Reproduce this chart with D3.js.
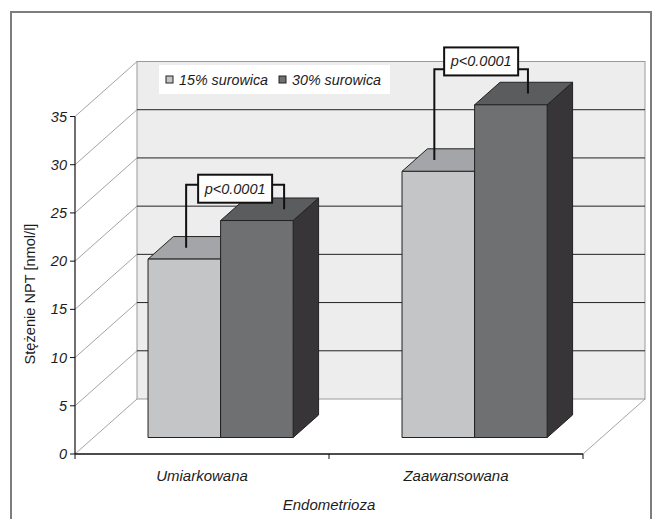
<!DOCTYPE html>
<html>
<head>
<meta charset="utf-8">
<script src="https://cdn.jsdelivr.net/npm/d3@7"></script>
<style>
  body { margin: 0; background: #fff; }
  svg { display: block; }
  text { font-family: "Liberation Sans", Arial, sans-serif; fill: #1c1c1c; }
</style>
</head>
<body>
<div id="chart"></div>
<script>
// Values.
const categories = ["Umiarkowana", "Zaawansowana"];
const series = ["15% surowica", "30% surowica"];
const values15 = [18.5, 27.6];
const values30 = [22.5, 34.5];
const yTicks = [0, 5, 10, 15, 20, 25, 30, 35];
const pLabels = ["p<0.0001", "p<0.0001"];
const bracketLevel = [26.2, 38.2];   // where the bracket's horizontal runs
const labelLevel = [25.8, 39.0];     // centre of the p-value box

const width = 653;
const height = 519;

// oblique projection: full depth shifts points by DX, DY
const DX = 62;
const DY = -55;
const BAR_FRONT = 0.30;
const BAR_BACK = 0.71;

const colors = {
  front: ["#c4c5c7", "#6f7072"],
  top: ["#a3a5a8", "#5b5c5e"],
  side: ["#8a8b8d", "#373537"]
};

function main() {
  const svg = d3.select("#chart").append("svg")
      .attr("width", width)
      .attr("height", height);

  const x = d3.scaleBand().domain(categories).range([75, 583]);
  const xs = d3.scaleBand().domain(series).range([0, x.bandwidth()])
      .paddingInner(0).paddingOuter(0.75);
  const y = d3.scaleLinear().domain([0, 35]).range([454, 116.5]);

  // project a front-plane point (px, value) to depth d (0..1)
  const P = (px, v, d) => [px + d * DX, y(v) + d * DY];
  const poly = pts => "M" + pts.map(p => p.join(",")).join("L") + "Z";

  // outer frame (bottom edge is cut off)
  svg.append("path")
      .attr("d", `M11,${height + 2}V12H651V${height + 2}`)
      .attr("fill", "none").attr("stroke", "#7d7d7d").attr("stroke-width", 2);

  // back wall
  const [bx0, by0] = P(75, 35, 1);
  const [bx1, by1] = P(583, 0, 1);
  svg.append("rect")
      .attr("x", bx0).attr("y", by0)
      .attr("width", bx1 - bx0).attr("height", by1 - by0)
      .attr("fill", "#ecedec").attr("stroke", "#9a9a9a").attr("stroke-width", 1);

  // back gridlines
  svg.append("g").selectAll("line")
    .data(yTicks.filter(t => t > 0 && t < 35))
    .join("line")
      .attr("x1", bx0).attr("x2", bx1)
      .attr("y1", d => P(75, d, 1)[1]).attr("y2", d => P(75, d, 1)[1])
      .attr("stroke", "#222").attr("stroke-width", 1);

  // side wall diagonals
  svg.append("g").selectAll("line")
    .data(yTicks)
    .join("line")
      .attr("x1", 75).attr("y1", d => y(d))
      .attr("x2", d => P(75, d, 1)[0]).attr("y2", d => P(75, d, 1)[1])
      .attr("stroke", "#8c8c8c").attr("stroke-width", 0.8);

  // floor right edge
  const fr = P(583, 0, 1);
  svg.append("line")
      .attr("x1", 583).attr("y1", y(0)).attr("x2", fr[0]).attr("y2", fr[1])
      .attr("stroke", "#8c8c8c").attr("stroke-width", 0.8);

  // bars
  const bars = [];
  categories.forEach((c, i) => {
    [values15[i], values30[i]].forEach((v, j) => {
      bars.push({ cat: c, s: j, v: v, x0: x(c) + xs(series[j]), w: xs.bandwidth() });
    });
  });

  const gb = svg.append("g")
      .attr("stroke", "#222").attr("stroke-width", 1).attr("stroke-linejoin", "round");
  bars.forEach(b => {
    const x0 = b.x0, x1 = b.x0 + b.w;
    const side = [P(x1, 0, BAR_FRONT), P(x1, 0, BAR_BACK), P(x1, b.v, BAR_BACK), P(x1, b.v, BAR_FRONT)];
    const top = [P(x0, b.v, BAR_FRONT), P(x1, b.v, BAR_FRONT), P(x1, b.v, BAR_BACK), P(x0, b.v, BAR_BACK)];
    const front = [P(x0, 0, BAR_FRONT), P(x1, 0, BAR_FRONT), P(x1, b.v, BAR_FRONT), P(x0, b.v, BAR_FRONT)];
    gb.append("path").attr("d", poly(side)).attr("fill", colors.side[b.s]);
    gb.append("path").attr("d", poly(top)).attr("fill", colors.top[b.s]);
    gb.append("path").attr("d", poly(front)).attr("fill", colors.front[b.s]);
  });

  // y axis
  svg.append("line")
      .attr("x1", 75).attr("x2", 75).attr("y1", y(35)).attr("y2", y(0))
      .attr("stroke", "#111").attr("stroke-width", 1.2);
  const gy = svg.append("g");
  gy.selectAll("line").data(yTicks).join("line")
      .attr("x1", 70).attr("x2", 75).attr("y1", d => y(d)).attr("y2", d => y(d))
      .attr("stroke", "#111");
  gy.selectAll("text").data(yTicks).join("text")
      .attr("x", 67).attr("y", d => y(d))
      .attr("text-anchor", "end").attr("dominant-baseline", "central")
      .attr("font-size", 14.5).attr("font-style", "italic")
      .text(d => d);

  // x axis
  svg.append("line")
      .attr("x1", 75).attr("x2", 583).attr("y1", y(0)).attr("y2", y(0))
      .attr("stroke", "#111").attr("stroke-width", 1.5);
  const bounds = [x.range()[0]].concat(categories.map(c => x(c) + x.bandwidth()));
  svg.append("g").selectAll("line").data(bounds).join("line")
      .attr("x1", d => d).attr("x2", d => d).attr("y1", y(0)).attr("y2", y(0) + 5)
      .attr("stroke", "#111");
  svg.append("g").selectAll("text").data(categories).join("text")
      .attr("x", d => x(d) + x.bandwidth() / 2).attr("y", 481)
      .attr("text-anchor", "middle")
      .attr("font-size", 15).attr("font-style", "italic")
      .text(d => d);

  svg.append("text")
      .attr("x", 329).attr("y", 510)
      .attr("text-anchor", "middle")
      .attr("font-size", 15).attr("font-style", "italic")
      .text("Endometrioza");

  svg.append("text")
      .attr("transform", "translate(35,294) rotate(-90)")
      .attr("text-anchor", "middle")
      .attr("font-size", 14.6)
      .text("Stężenie NPT [nmol/l]");

  // legend
  const lg = svg.append("g");
  lg.append("rect").attr("x", 159).attr("y", 65).attr("width", 231).attr("height", 29)
      .attr("fill", "#fff");
  const legX = [166, 279];
  series.forEach((s, j) => {
    lg.append("rect").attr("x", legX[j]).attr("y", 76).attr("width", 7).attr("height", 7)
        .attr("fill", colors.front[j]).attr("stroke", "#222").attr("stroke-width", 1);
    lg.append("text").attr("x", legX[j] + 13).attr("y", 80)
        .attr("dominant-baseline", "central")
        .attr("font-size", 14.3).attr("font-style", "italic")
        .text(s);
  });

  // significance brackets
  const legLeft = [0.35, 0.27];   // where each leg meets the bar top, as share of bar width
  const legRight = [0.70, 0.56];
  const ga = svg.append("g");
  categories.forEach((c, i) => {
    const lb = bars[i * 2], rb = bars[i * 2 + 1];
    const mid = (BAR_FRONT + BAR_BACK) / 2;
    const lx = P(lb.x0 + lb.w * legLeft[i], 0, mid)[0];
    const rx = P(rb.x0 + rb.w * legRight[i], 0, mid)[0];
    const ly = P(0, lb.v, mid)[1];
    const ry = P(0, rb.v, mid)[1];
    const hy = P(0, bracketLevel[i], BAR_FRONT)[1];
    ga.append("path")
        .attr("d", `M${lx},${ly}V${hy}H${rx}V${ry}`)
        .attr("fill", "none").attr("stroke", "#111").attr("stroke-width", 2);
    const cy = P(0, labelLevel[i], BAR_FRONT)[1];
    const cx = (lx + rx) / 2;
    ga.append("rect")
        .attr("x", cx - 37).attr("y", cy - 14).attr("width", 74).attr("height", 28)
        .attr("fill", "#fff").attr("stroke", "#111").attr("stroke-width", 2);
    ga.append("text")
        .attr("x", cx).attr("y", cy)
        .attr("text-anchor", "middle").attr("dominant-baseline", "central")
        .attr("font-size", 14.5).attr("font-style", "italic")
        .text(pLabels[i]);
  });
}

main();
</script>
</body>
</html>
